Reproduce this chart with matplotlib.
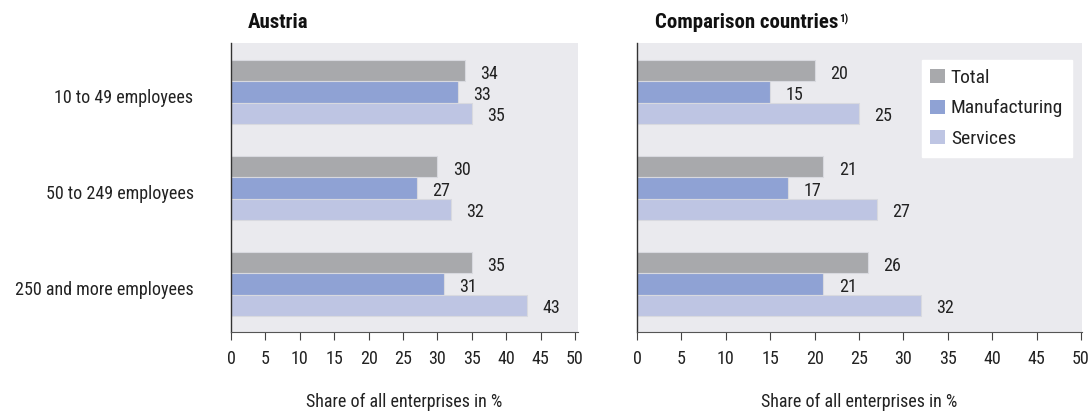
import matplotlib
matplotlib.use("Agg")
import matplotlib.pyplot as plt
from matplotlib import font_manager
from matplotlib.patches import Patch
from matplotlib.transforms import offset_copy
import numpy as np

# pick a narrow sans face when one is installed
names = {f.name for f in font_manager.fontManager.ttflist}
family = ["DejaVu Sans"]
for cand in ["Liberation Sans Narrow", "DejaVu Sans Condensed", "Roboto Condensed", "Open Sans Condensed"]:
    if cand in names:
        family = [cand, "DejaVu Sans"]
        break
plt.rcParams["font.family"] = family
stretch = "normal" if family[0] != "DejaVu Sans" else "condensed"

categories = ["10 to 49 employees", "50 to 249 employees", "250 and more employees"]
series = ["Total", "Manufacturing", "Services"]
austria_total = [34, 30, 35]
austria_manufacturing = [33, 27, 31]
austria_services = [35, 32, 43]
comparison_total = [20, 21, 26]
comparison_manufacturing = [15, 17, 21]
comparison_services = [25, 27, 32]
xticks = [0, 5, 10, 15, 20, 25, 30, 35, 40, 45, 50]

colors = ["#a8a9ac", "#8fa2d4", "#bec5e3"]
bg = "#eaeaee"
txt = "#222222"
W, H = 1091, 415
fig = plt.figure(figsize=(W / 100, H / 100), dpi=100)

ax_l = fig.add_axes([231 / W, 83 / H, 347 / W, 289 / H])
ax_r = fig.add_axes([637 / W, 83 / H, 445 / W, 289 / H])

bar_h = 0.222
y = np.arange(len(categories))

def draw(ax, data, xmax):
    ax.set_facecolor(bg)
    for i, (vals, c) in enumerate(zip(data, colors)):
        pos = y + (i - 1) * bar_h
        ax.barh(pos, vals, height=bar_h, color=c, edgecolor="#d8d9df", linewidth=0.8)
        for p, v in zip(pos, vals):
            ax.annotate(f"{v}", (v, p + 0.03), xytext=(11, 0), textcoords="offset points",
                        va="center", ha="left", fontsize=13, color=txt, fontstretch=stretch)
    ax.set_xlim(0, xmax)
    ax.set_ylim(2.5, -0.51)
    ax.set_xticks(xticks)
    ax.set_xticklabels([str(t) for t in xticks], fontsize=13, color=txt, fontstretch=stretch)
    ax.tick_params(axis="x", length=6, width=0.8, color="#444444", pad=7)
    ax.tick_params(axis="y", length=0)
    for s in ["top", "right"]:
        ax.spines[s].set_visible(False)
    ax.spines["left"].set_color("#333333")
    ax.spines["left"].set_linewidth(1.0)
    ax.spines["bottom"].set_color("#555555")
    ax.spines["bottom"].set_linewidth(0.8)
    ax.set_xlabel("Share of all enterprises in %", fontsize=13, color=txt,
                  labelpad=18, fontstretch=stretch)

draw(ax_l, [austria_total, austria_manufacturing, austria_services], 50.44)
draw(ax_r, [comparison_total, comparison_manufacturing, comparison_services], 50.11)

ax_l.set_yticks(y + 0.04)
ax_l.set_yticklabels(categories, fontsize=13, color=txt, fontstretch=stretch)
ax_l.tick_params(axis="y", pad=27)
ax_r.set_yticks([])

fig.text(248 / W, 1 - 22 / H, "Austria", fontsize=15, fontweight="bold",
         va="center", ha="left", color="#111111", fontstretch=stretch)
title_r = fig.text(655 / W, 1 - 22 / H, "Comparison countries", fontsize=15,
                   fontweight="bold", va="center", ha="left", color="#111111",
                   fontstretch=stretch)

# footnote marker placed right after the panel title
fig.canvas.draw()
bb = title_r.get_window_extent()
fig.text(bb.x1 / W + 1 / W, bb.y1 / H - 1 / H, "1)", fontsize=8, fontweight="bold",
         va="top", ha="left", color="#111111", fontstretch=stretch)

handles = [Patch(facecolor=c, edgecolor="none") for c in colors]
leg = ax_r.legend(handles, series, loc="upper right", bbox_to_anchor=(1072 / W, 1 - 60 / H),
                  bbox_transform=fig.transFigure, frameon=True, fancybox=False,
                  fontsize=14, handlelength=0.75, handleheight=0.75, handletextpad=0.3,
                  labelspacing=0.65, borderpad=0.45, borderaxespad=0)
leg.get_frame().set_facecolor("white")
leg.get_frame().set_edgecolor("white")
leg.get_frame().set_alpha(1.0)
for t in leg.get_texts():
    t.set_color(txt)
    t.set_fontstretch(stretch)

fig.savefig("out.png", dpi=100)
